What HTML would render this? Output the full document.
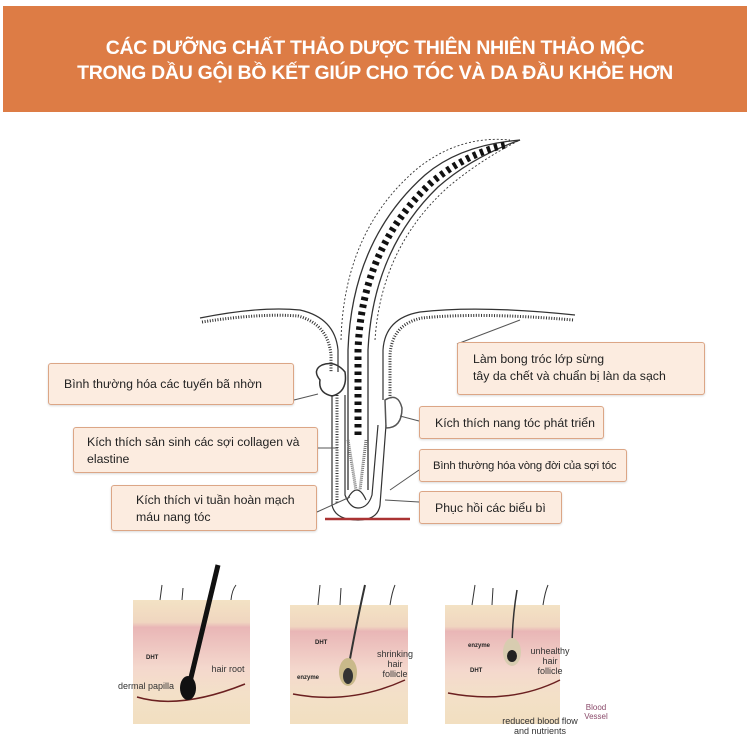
<!DOCTYPE html>
<html><head><meta charset="utf-8"><style>
body{margin:0;width:750px;height:750px;background:#fff;position:relative;overflow:hidden;font-family:"Liberation Sans","DejaVu Sans",sans-serif}
.ban{position:absolute;left:3px;top:6px;width:744px;height:106px;background:#dd7c45;color:#fff;text-align:center;font-weight:bold;font-size:19.5px;line-height:25px;padding-top:30px;box-sizing:border-box;letter-spacing:-0.3px;white-space:nowrap}
.box{position:absolute;background:#fcece0;border:1.5px solid #dca686;border-radius:3px;box-sizing:border-box;font-size:12.3px;color:#222;line-height:17px;box-shadow:0 1px 2px rgba(0,0,0,.15);white-space:nowrap}
svg{position:absolute;left:0;top:0}
</style></head><body>
<div class="ban">CÁC DƯỠNG CHẤT THẢO DƯỢC THIÊN NHIÊN THẢO MỘC<br>TRONG DẦU GỘI BỒ KẾT GIÚP CHO TÓC VÀ DA ĐẦU KHỎE HƠN</div>
<svg width="750" height="750" viewBox="0 0 750 750">
<defs>
<linearGradient id="sk" x1="0" y1="0" x2="0" y2="1"><stop offset="0" stop-color="#f3e2c4"/><stop offset=".18" stop-color="#f0d6c0"/><stop offset=".22" stop-color="#e9b6b6"/><stop offset=".55" stop-color="#f4d8cd"/><stop offset=".75" stop-color="#f3e0c8"/><stop offset="1" stop-color="#f2dfc0"/></linearGradient>
</defs>
<g fill="none" stroke="#333" stroke-width="1.2">
<path d="M200 318 Q260 306 300 310 Q335 318 338 350 L338 372"/>
<path d="M202 322 Q260 313 298 316 Q328 324 331 355 L331 372" stroke-dasharray="1 1.6" stroke-width="3"/>
<path d="M575 315 Q480 305 420 312 Q385 318 383 350 L383 400"/>
<path d="M573 320 Q480 312 422 318 Q392 324 390 355 L390 400" stroke-dasharray="1 1.6" stroke-width="3"/>
<path d="M332 395 L332 505 Q335 520 358 520 Q378 520 380 505 L386 425" />
<path d="M337 395 L337 503" stroke-dasharray="1 1.6" stroke-width="3"/>
<path d="M345 395 L345 495 Q350 508 358 508 Q368 508 372 495 L378 425"/>
<path d="M320 380 Q312 370 322 365 Q335 360 345 372 Q348 392 332 396 Q318 393 320 380Z" stroke-width="1.5"/>
<path d="M385 400 Q398 392 402 408 Q402 428 386 428Z" stroke="#555" stroke-width="1.5"/>
<path d="M348 490 L348 350 Q352 240 425 175 Q460 145 520 140" stroke-width="1.3"/>
<path d="M368 490 L368 350 Q373 250 438 187 Q472 157 520 140" stroke-width="1.3"/>
<path d="M341 340 Q344 230 418 168 Q460 135 510 140" stroke-dasharray="2 2" stroke-width=".9"/>
<path d="M375 340 Q381 248 447 188 Q480 160 520 140" stroke-dasharray="2 2" stroke-width=".9"/>
<path d="M358 435 L358 350 Q362 247 432 182 Q466 154 505 145" stroke="#111" stroke-width="7" stroke-dasharray="3.5 4"/>
<path d="M347 500 Q357 480 366 500"/>
<path d="M348 440 L356 490 M366 440 L360 490" stroke-dasharray="1 1" stroke-width="3" stroke="#777"/>
<path d="M294 400 L318 394 M318 448 L338 448 M317 512 L350 497 M419 421 L400 416 M419 470 L390 490 M419 502 L385 500 M457 344 L520 320" stroke="#555" stroke-width="1"/>
</g>
<path d="M325 519 L410 519" stroke="#a33" stroke-width="2.5"/>
<g>
<rect x="133" y="600" width="117" height="124" fill="url(#sk)"/>
<rect x="290" y="605" width="118" height="119" fill="url(#sk)"/>
<rect x="445" y="605" width="115" height="119" fill="url(#sk)"/>
<g fill="none" stroke="#6b2020" stroke-width="1.5">
<path d="M137 697 Q180 710 245 684"/><path d="M293 694 Q350 705 405 680"/><path d="M448 693 Q510 705 560 680"/>
</g>
<path d="M218 565 Q205 620 188 690" stroke="#111" stroke-width="5" fill="none"/>
<ellipse cx="188" cy="688" rx="8" ry="12" fill="#111"/>
<path d="M365 585 Q355 630 348 670" stroke="#333" stroke-width="2" fill="none"/>
<ellipse cx="348" cy="672" rx="9" ry="14" fill="#c9b98a"/><ellipse cx="348" cy="676" rx="5" ry="8" fill="#333"/>
<path d="M517 590 Q512 620 512 650" stroke="#333" stroke-width="1.5" fill="none"/>
<ellipse cx="512" cy="652" rx="9" ry="14" fill="#d8ccb0"/><ellipse cx="512" cy="656" rx="5" ry="6" fill="#222"/>
<g stroke="#333" stroke-width="1" fill="none">
<path d="M160 600 L162 585 M182 600 L183 588 M231 600 Q232 590 236 585 M318 605 L320 585 M340 605 L341 588 M390 605 Q392 592 395 585 M472 605 L475 585 M492 605 L493 588 M543 605 Q545 592 548 585"/>
</g>
<g font-size="6" font-weight="bold" fill="#222"><text x="146" y="659">DHT</text><text x="315" y="644">DHT</text><text x="297" y="679">enzyme</text><text x="468" y="647">enzyme</text><text x="470" y="672">DHT</text></g>
<g font-size="9" fill="#333" text-anchor="middle"><text x="228" y="672">hair root</text><text x="146" y="689">dermal papilla</text><text x="395" y="657">shrinking</text><text x="395" y="667">hair</text><text x="395" y="677">follicle</text><text x="550" y="654">unhealthy</text><text x="550" y="664">hair</text><text x="550" y="674">follicle</text><text x="540" y="724">reduced blood flow</text><text x="540" y="734">and nutrients</text><text x="596" y="710" fill="#8a4a6a" font-size="8">Blood</text><text x="596" y="719" fill="#8a4a6a" font-size="8">Vessel</text></g>
</g>
</svg>
<div class="box" style="left:48px;top:363px;width:246px;height:42px;padding:12px 0 0 15px">Bình thường hóa các tuyến bã nhờn</div>
<div class="box" style="left:73px;top:427px;width:245px;height:46px;padding:6px 0 0 13px">Kích thích sản sinh các sợi collagen và<br>elastine</div>
<div class="box" style="left:111px;top:485px;width:206px;height:46px;padding:6px 0 0 24px">Kích thích vi tuần hoàn mạch<br>máu nang tóc</div>
<div class="box" style="left:457px;top:342px;width:248px;height:53px;padding:8px 0 0 15px">Làm bong tróc lớp sừng<br>tây da chết và chuẩn bị làn da sạch</div>
<div class="box" style="left:419px;top:406px;width:185px;height:33px;padding:8px 0 0 15px">Kích thích nang tóc phát triển</div>
<div class="box" style="left:419px;top:449px;width:208px;height:33px;padding:8px 0 0 13px;font-size:11.3px;letter-spacing:-0.2px">Bình thường hóa vòng đời của sợi tóc</div>
<div class="box" style="left:419px;top:491px;width:143px;height:33px;padding:8px 0 0 15px">Phục hồi các biểu bì</div>
</body></html>
